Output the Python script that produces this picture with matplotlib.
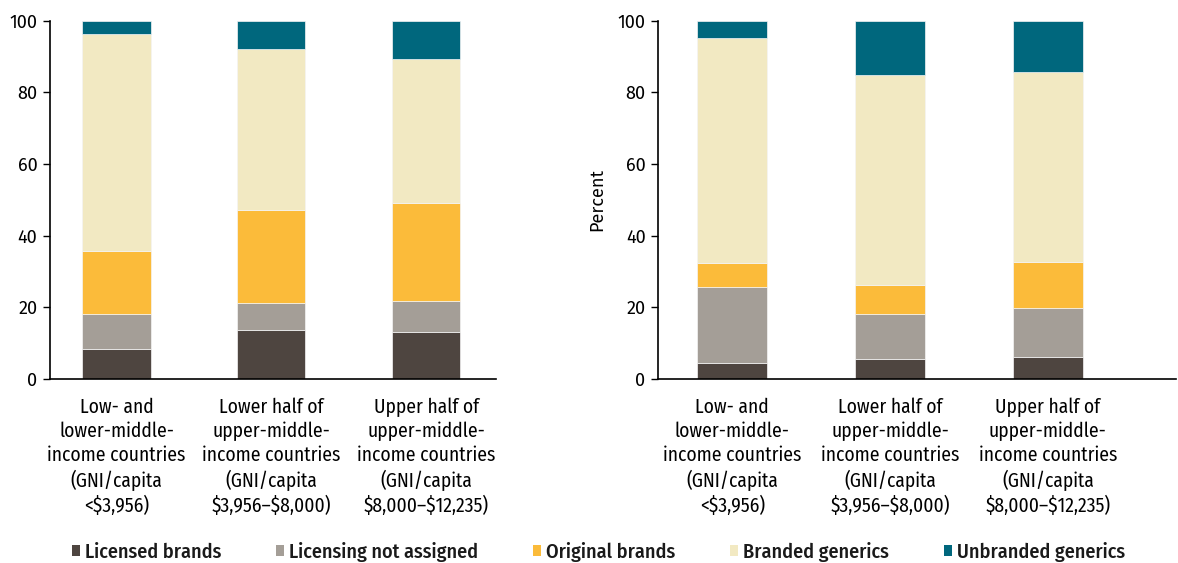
import matplotlib
matplotlib.use("Agg")
import matplotlib.pyplot as plt
from matplotlib.patches import Patch

categories = [
    "Low- and\nlower-middle-\nincome countries\n(GNI/capita\n<\\$3,956)",
    "Lower half of\nupper-middle-\nincome countries\n(GNI/capita\n\\$3,956\u2013\\$8,000)",
    "Upper half of\nupper-middle-\nincome countries\n(GNI/capita\n\\$8,000\u2013\\$12,235)",
]
series_names = ["Licensed brands", "Licensing not assigned", "Original brands",
                "Branded generics", "Unbranded generics"]

left_licensed = [8.4, 13.8, 13.0]
left_not_assigned = [9.7, 7.3, 8.8]
left_original = [17.7, 26.2, 27.4]
left_branded_gen = [60.6, 44.8, 40.2]
left_unbranded_gen = [3.6, 7.9, 10.6]

right_licensed = [4.4, 5.7, 6.1]
right_not_assigned = [21.4, 12.5, 13.7]
right_original = [6.7, 8.0, 12.8]
right_branded_gen = [62.6, 58.7, 53.1]
right_unbranded_gen = [4.9, 15.1, 14.3]

y_ticks = [0, 20, 40, 60, 80, 100]
colors = ["#4E4540", "#A49E97", "#FBBB3A", "#F2E9C2", "#00677D"]

cond = ["Fira Sans Condensed", "DejaVu Sans"]
reg = ["Fira Sans", "DejaVu Sans"]
plt.rcParams["font.family"] = cond
plt.rcParams["text.color"] = "#1a1a1a"

fig = plt.figure(figsize=(11.78, 5.63), dpi=100)
ax1 = fig.add_axes([0.0424, 0.3268, 0.3786, 0.6365])
ax2 = fig.add_axes([0.5586, 0.3268, 0.4394, 0.6365])

panels = [
    (ax1, [left_licensed, left_not_assigned, left_original, left_branded_gen, left_unbranded_gen], (-0.43, 2.45)),
    (ax2, [right_licensed, right_not_assigned, right_original, right_branded_gen, right_unbranded_gen], (-0.47, 2.81)),
]
x = list(range(len(categories)))
for ax, data, xl in panels:
    bottom = [0.0] * len(x)
    for vals, col, nm in zip(data, colors, series_names):
        ax.bar(x, vals, 0.44, bottom=bottom, color=col, edgecolor="#f4f4f4",
               linewidth=0.5, label=nm)
        bottom = [b + v for b, v in zip(bottom, vals)]
    ax.set_ylim(0, 100)
    ax.set_xlim(*xl)
    ax.set_yticks(y_ticks)
    ax.tick_params(axis="y", labelsize=13, length=5, width=1, direction="out", pad=4)
    for lab in ax.get_yticklabels():
        lab.set_fontfamily(reg)
    ax.set_xticks(x)
    ax.set_xticklabels(categories, fontsize=14, linespacing=1.3)
    ax.tick_params(axis="x", length=0, pad=13)
    for s in ["top", "right"]:
        ax.spines[s].set_visible(False)
    ax.spines["left"].set_linewidth(1.2)
    ax.spines["bottom"].set_linewidth(1.2)

ax2.set_ylabel("Percent", fontsize=13, labelpad=8, family=reg)

handles = [Patch(facecolor=c, edgecolor="none") for c in colors]
fig.legend(handles, series_names, loc="center", ncol=5, frameon=False,
           bbox_to_anchor=(0.508, 0.02), handlelength=0.42,
           handleheight=0.42, handletextpad=0.25, columnspacing=2.7,
           prop={"family": cond, "size": 14.5, "weight": "medium"})

fig.savefig("out.png", dpi=100)
